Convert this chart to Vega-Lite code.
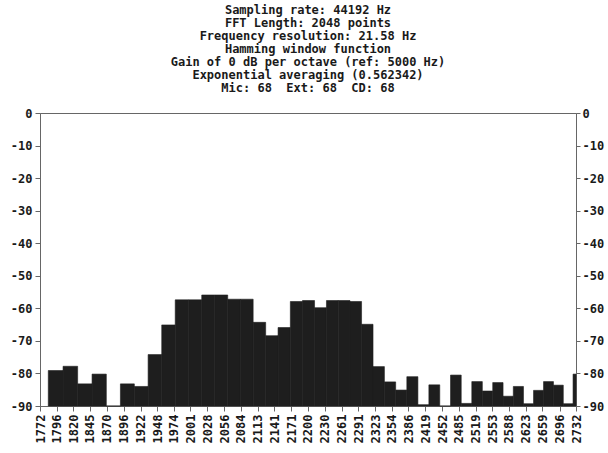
{
  "$schema": "https://vega.github.io/schema/vega-lite/v6.json",
  "width": 536,
  "height": 293,
  "autosize": {"type": "none"},
  "padding": {"left": 40, "top": 113, "right": 32, "bottom": 47},
  "background": "white",
  "config": {
    "view": {"stroke": "#666", "strokeWidth": 1},
    "font": "DejaVu Sans Mono"
  },
  "title": {
    "text": [
      "Sampling rate: 44192 Hz",
      "FFT Length: 2048 points",
      "Frequency resolution: 21.58 Hz",
      "Hamming window function",
      "Gain of 0 dB per octave (ref: 5000 Hz)",
      "Exponential averaging (0.562342)",
      "Mic: 68\u00a0 Ext: 68\u00a0 CD: 68"
    ],
    "font": "DejaVu Sans Mono",
    "fontSize": 12,
    "fontWeight": "bold",
    "lineHeight": 13,
    "color": "#1a1a1a",
    "anchor": "middle",
    "frame": "group",
    "offset": 12
  },
  "data": {
    "values": [
      {"f0": 1783.9, "f1": 1805.3, "db": -79.1},
      {"f0": 1805.3, "f1": 1826.7, "db": -77.8},
      {"f0": 1826.7, "f1": 1848.1, "db": -83.2},
      {"f0": 1848.1, "f1": 1869.5, "db": -80.2},
      {"f0": 1869.5, "f1": 1890.9, "db": -90},
      {"f0": 1890.9, "f1": 1912.3, "db": -83.2},
      {"f0": 1912.3, "f1": 1933.7, "db": -84},
      {"f0": 1933.7, "f1": 1955.1, "db": -74.2},
      {"f0": 1955.1, "f1": 1976.5, "db": -65.1},
      {"f0": 1976.5, "f1": 1997.9, "db": -57.4},
      {"f0": 1997.9, "f1": 2019.3, "db": -57.4},
      {"f0": 2019.3, "f1": 2040.7, "db": -55.9},
      {"f0": 2040.7, "f1": 2062.1, "db": -55.9},
      {"f0": 2062.1, "f1": 2083.5, "db": -57.2},
      {"f0": 2083.5, "f1": 2104.9, "db": -57.2},
      {"f0": 2104.9, "f1": 2126.3, "db": -64.3},
      {"f0": 2126.3, "f1": 2147.7, "db": -68.4},
      {"f0": 2147.7, "f1": 2169.1, "db": -65.9},
      {"f0": 2169.1, "f1": 2190.5, "db": -57.9},
      {"f0": 2190.5, "f1": 2211.9, "db": -57.6},
      {"f0": 2211.9, "f1": 2233.3, "db": -59.8},
      {"f0": 2233.3, "f1": 2254.7, "db": -57.6},
      {"f0": 2254.7, "f1": 2276.1, "db": -57.6},
      {"f0": 2276.1, "f1": 2297.5, "db": -57.9},
      {"f0": 2297.5, "f1": 2318.9, "db": -64.9},
      {"f0": 2318.9, "f1": 2340.3, "db": -77.9},
      {"f0": 2340.3, "f1": 2361.7, "db": -82.6},
      {"f0": 2361.7, "f1": 2383.1, "db": -85.1},
      {"f0": 2383.1, "f1": 2404.5, "db": -81},
      {"f0": 2404.5, "f1": 2425.9, "db": -89.6},
      {"f0": 2425.9, "f1": 2447.3, "db": -83.5},
      {"f0": 2447.3, "f1": 2468.7, "db": -90},
      {"f0": 2468.7, "f1": 2490.1, "db": -80.5},
      {"f0": 2490.1, "f1": 2511.5, "db": -89.2},
      {"f0": 2511.5, "f1": 2532.9, "db": -82.5},
      {"f0": 2532.9, "f1": 2554.3, "db": -85.4},
      {"f0": 2554.3, "f1": 2575.7, "db": -82.8},
      {"f0": 2575.7, "f1": 2597.1, "db": -87},
      {"f0": 2597.1, "f1": 2618.5, "db": -84},
      {"f0": 2618.5, "f1": 2639.9, "db": -89.3},
      {"f0": 2639.9, "f1": 2661.3, "db": -85.2},
      {"f0": 2661.3, "f1": 2682.7, "db": -82.5},
      {"f0": 2682.7, "f1": 2704.1, "db": -83.6},
      {"f0": 2704.1, "f1": 2725.5, "db": -89.3},
      {"f0": 2725.5, "f1": 2732, "db": -80.2}
    ]
  },
  "layer": [
    {
      "mark": {"type": "rect", "color": "#1e1e1e", "stroke": "#1e1e1e", "strokeWidth": 0.6},
      "encoding": {
        "x": {
          "field": "f0",
          "type": "quantitative",
          "scale": {"type": "log", "domain": [1772, 2732], "nice": false},
          "axis": {
            "title": null,
            "values": [1772, 1796, 1820, 1845, 1870, 1896, 1922, 1948, 1974, 2001, 2028, 2056, 2084, 2113, 2141, 2171, 2200, 2230, 2261, 2291, 2323, 2354, 2386, 2419, 2452, 2485, 2519, 2553, 2588, 2623, 2659, 2696, 2732],
            "format": "d",
            "labelAngle": -90,
            "labelFont": "DejaVu Sans Mono",
            "labelFontSize": 12,
            "labelFontWeight": "bold",
            "labelColor": "#1a1a1a",
            "labelPadding": 3,
            "labelOverlap": false,
            "labelFlush": false,
            "labelBound": false,
            "tickSize": 5,
            "tickColor": "#666",
            "domainColor": "#666",
            "grid": false
          }
        },
        "x2": {"field": "f1"},
        "y": {
          "field": "db",
          "type": "quantitative",
          "scale": {"domain": [-90, 0], "nice": false, "zero": false},
          "axis": {
            "orient": "left",
            "title": null,
            "values": [0, -10, -20, -30, -40, -50, -60, -70, -80, -90],
            "labelExpr": "datum.value == 0 ? '0' : '-' + abs(datum.value)",
            "labelFont": "DejaVu Sans Mono",
            "labelFontSize": 12,
            "labelFontWeight": "bold",
            "labelColor": "#1a1a1a",
            "labelPadding": 3,
            "tickSize": 5,
            "tickColor": "#666",
            "domainColor": "#666",
            "grid": false
          }
        },
        "y2": {"datum": -90}
      }
    },
    {
      "mark": {"type": "rect", "opacity": 0},
      "encoding": {
        "x": {"field": "f0", "type": "quantitative"},
        "x2": {"field": "f1"},
        "y": {
          "field": "db",
          "type": "quantitative",
          "axis": {
            "orient": "right",
            "title": null,
            "values": [0, -10, -20, -30, -40, -50, -60, -70, -80, -90],
            "labelExpr": "datum.value == 0 ? '0' : '-' + abs(datum.value)",
            "labelFont": "DejaVu Sans Mono",
            "labelFontSize": 12,
            "labelFontWeight": "bold",
            "labelColor": "#1a1a1a",
            "labelPadding": 2,
            "tickSize": 4,
            "tickColor": "#666",
            "domainColor": "#666",
            "grid": false
          }
        }
      }
    }
  ],
  "resolve": {"axis": {"y": "independent"}}
}
